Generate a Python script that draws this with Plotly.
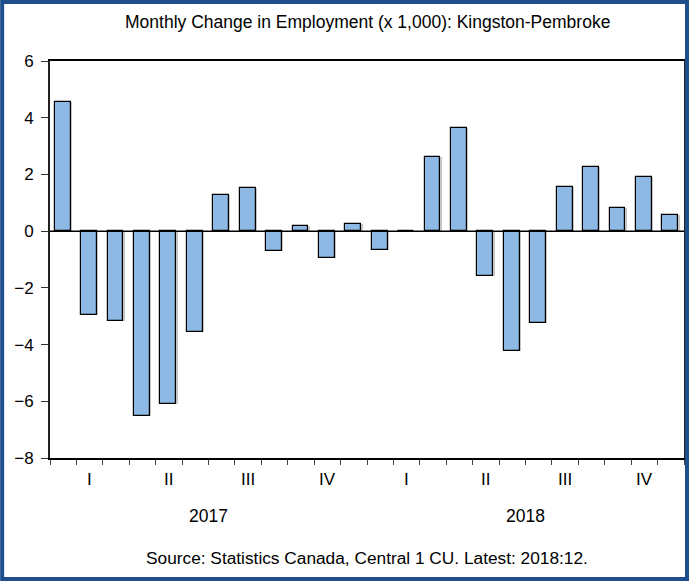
import plotly.graph_objects as go

months = ["2017-01","2017-02","2017-03","2017-04","2017-05","2017-06",
          "2017-07","2017-08","2017-09","2017-10","2017-11","2017-12",
          "2018-01","2018-02","2018-03","2018-04","2018-05","2018-06",
          "2018-07","2018-08","2018-09","2018-10","2018-11","2018-12"]
change = [4.55, -2.97, -3.16, -6.51, -6.09, -3.57, 1.28, 1.52, -0.69, 0.18, -0.93, 0.25,
          -0.67, 0.0, 2.60, 3.62, -1.57, -4.23, -3.25, 1.55, 2.27, 0.81, 1.90, 0.58]
quarter_labels = ["I", "II", "III", "IV", "I", "II", "III", "IV"]
year_labels = ["2017", "2018"]
y_ticks = [-8, -6, -4, -2, 0, 2, 4, 6]

title = "Monthly Change in Employment (x 1,000): Kingston-Pembroke"
source = "Source: Statistics Canada, Central 1 CU. Latest: 2018:12."

FONT = "Liberation Sans, Arial, sans-serif"
idx = list(range(len(months)))

fig = go.Figure()
# subtle shadow
fig.add_trace(go.Bar(x=idx, y=change, width=0.6, offset=-0.27,
                     marker=dict(color="rgba(110,110,110,0.4)", line=dict(width=0)),
                     hoverinfo="skip", showlegend=False))
fig.add_trace(go.Bar(x=idx, y=change, width=0.6, offset=-0.32,
                     marker=dict(color="#8DB9E4", line=dict(color="black", width=1.2)),
                     customdata=months, hovertemplate="%{customdata}: %{y}<extra></extra>",
                     showlegend=False))

annotations = []
for q, lab in enumerate(quarter_labels):
    annotations.append(dict(x=q * 3 + 1, y=-0.055, xref="x", yref="paper", text=lab,
                            showarrow=False, yanchor="middle", xanchor="center",
                            font=dict(family=FONT, size=17, color="black")))
for i, lab in enumerate(year_labels):
    annotations.append(dict(x=i * 12 + 5.5, y=-0.146, xref="x", yref="paper", text=lab,
                            showarrow=False, yanchor="middle", xanchor="center",
                            font=dict(family=FONT, size=17.5, color="black")))
annotations.append(dict(x=0.5, y=-0.252, xref="paper", yref="paper", text=source,
                        showarrow=False, yanchor="middle", xanchor="center",
                        font=dict(family=FONT, size=17.3, color="black")))
annotations.append(dict(x=0.5, y=1.098, xref="paper", yref="paper", text=title,
                        showarrow=False, yanchor="middle", xanchor="center",
                        font=dict(family=FONT, size=17.5, color="black")))

# outer frame (paper coords relative to plot area: x 50..686, y 61..458)
W, H = 691, 581
L, R, T, B = 50, 686, 61, 458
def px(xp):
    return (xp - L) / (R - L)
def py(yp):
    return (B - yp) / (B - T)

shapes = [dict(type="rect", xref="paper", yref="paper",
               x0=px(2), x1=px(W - 2), y0=py(H - 2), y1=py(2),
               line=dict(color="#1F4E8C", width=4), fillcolor="rgba(0,0,0,0)", layer="above"),
          dict(type="line", xref="paper", yref="y", x0=0, x1=1, y0=0, y1=0,
               line=dict(color="black", width=1.5))]

fig.update_layout(
    width=W, height=H,
    margin=dict(l=L, r=W - R, t=T, b=H - B),
    paper_bgcolor="white", plot_bgcolor="white",
    barmode="overlay", bargap=0,
    font=dict(family=FONT, size=17, color="black"),
    annotations=annotations, shapes=shapes,
    xaxis=dict(range=[-0.5, 23.5], tickmode="array",
               tickvals=[q * 3 - 0.5 for q in range(9)], ticktext=[""] * 9,
               ticks="outside", ticklen=8, tickwidth=1.2, tickcolor="black",
               minor=dict(tickmode="array", tickvals=[m - 0.5 for m in range(25)],
                          ticks="outside", ticklen=5, tickwidth=1, tickcolor="#444"),
               showline=True, linecolor="black", linewidth=1.5, mirror=True,
               showgrid=False, zeroline=False, fixedrange=True),
    yaxis=dict(range=[-8, 6], tickmode="array", tickvals=y_ticks,
               ticks="outside", ticklen=7, tickwidth=1, tickcolor="#333",
               showline=True, linecolor="#222", linewidth=2, mirror=True,
               showgrid=False, zeroline=False, ticklabelstandoff=4,
               tickfont=dict(family=FONT, size=17, color="black"), fixedrange=True),
)

fig.write_html("out.html", config={"displayModeBar": False},
               post_script="document.body.style.margin='0';")
